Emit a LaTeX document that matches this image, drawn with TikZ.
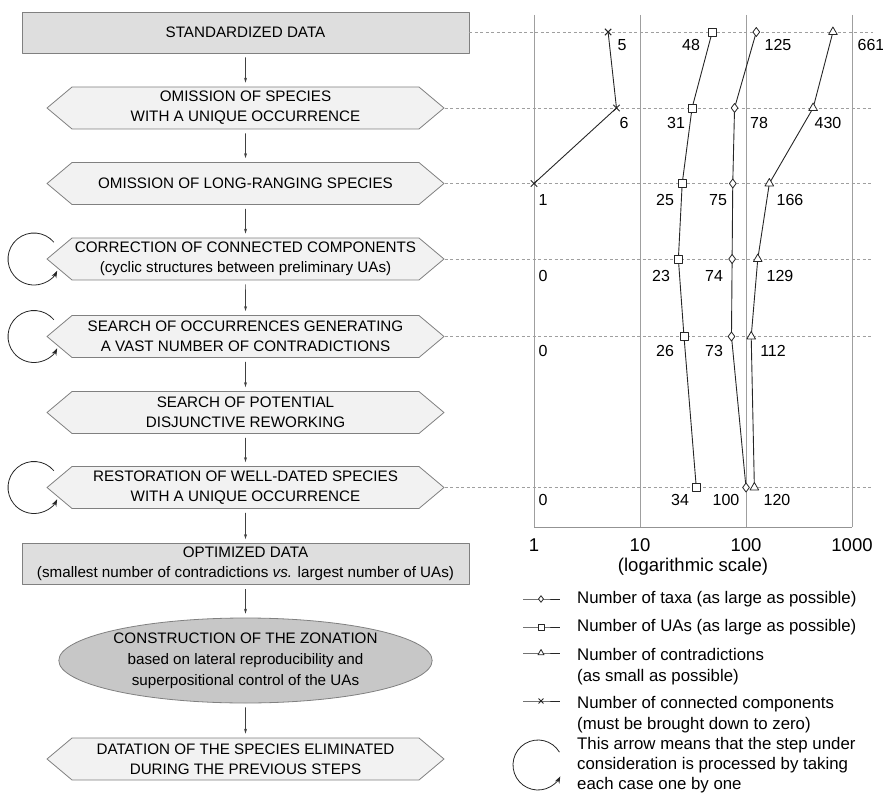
\documentclass[tikz,border=0pt]{standalone}
\usepackage{fontspec}
\setmainfont{Liberation Sans}
\usetikzlibrary{shapes.geometric,shapes.symbols,arrows.meta,plotmarks}

\definecolor{boxgray}{gray}{0.87}
\definecolor{hexgray}{gray}{0.95}
\definecolor{ovalgray}{gray}{0.78}
\definecolor{edgegray}{gray}{0.5}

\tikzset{
  stepfont/.style={font=\fontsize{15.2}{20}\selectfont},
  databox/.style={rectangle, draw=edgegray, fill=boxgray, line width=0.8pt,
    minimum width=447pt, minimum height=41pt, inner sep=0pt, align=center, stepfont},
  hexbox/.style={signal, signal to=west and east, signal pointer angle=80,
    draw=edgegray, fill=hexgray, line width=0.8pt,
    minimum width=397pt, minimum height=42pt, inner sep=0pt, align=center, stepfont},
  oval/.style={ellipse, draw=edgegray, fill=ovalgray, line width=0.8pt,
    minimum width=368pt, minimum height=85pt, inner sep=0pt, align=center,
    font=\fontsize{15.2}{21}\selectfont},
  flow/.style={-{Stealth[length=5pt,width=3pt]}, draw=black!75, line width=0.6pt,
    shorten <=4pt, shorten >=4pt},
  cyclearrow/.style={-{Stealth[length=7pt,width=5pt]}, draw=black!85, line width=0.8pt},
  guide/.style={draw=gray!75, line width=0.5pt, dash pattern=on 3pt off 2.5pt},
  gridline/.style={draw=gray!75, line width=0.6pt},
  series/.style={draw=black!85, line width=0.9pt},
  openmark/.style={mark options={fill=white, solid, line width=0.8pt}},
  numlab/.style={font=\fontsize{16}{18}\selectfont, inner sep=0pt},
  axislab/.style={font=\fontsize{18.5}{20}\selectfont, inner sep=0pt},
  legtext/.style={font=\fontsize{16.8}{21.5}\selectfont, align=left, inner sep=0pt}
}

\begin{document}
\begin{tikzpicture}[x=1pt, y=-1pt, line join=round]
\useasboundingbox (0,0) rectangle (883,794);

% steps of the procedure
\node[databox] (std) at (245.5,32.5) {STANDARDIZED DATA};
\node[hexbox] (unique) at (245.5,108) {OMISSION OF SPECIES\\WITH A UNIQUE OCCURRENCE};
\node[hexbox] (longrange) at (245.5,183.5) {OMISSION OF LONG-RANGING SPECIES};
\node[hexbox] (connect) at (245.5,259) {CORRECTION OF CONNECTED COMPONENTS\\(cyclic structures between preliminary UAs)};
\node[hexbox] (contra) at (245.5,336.5) {SEARCH OF OCCURRENCES GENERATING\\A VAST NUMBER OF CONTRADICTIONS};
\node[hexbox] (rework) at (245.5,412.5) {SEARCH OF POTENTIAL\\DISJUNCTIVE REWORKING};
\node[hexbox] (restore) at (245.5,487.5) {RESTORATION OF WELL-DATED SPECIES\\WITH A UNIQUE OCCURRENCE};
\node[databox] (optim) at (245.5,564) {OPTIMIZED DATA\\(smallest number of contradictions \textit{vs.} largest number of UAs)};
\node[oval] (zone) at (245.5,660.5) {CONSTRUCTION OF THE ZONATION\\based on lateral reproducibility and\\superpositional control of the UAs};
\node[hexbox] (dating) at (245.5,759) {DATATION OF THE SPECIES ELIMINATED\\DURING THE PREVIOUS STEPS};

\foreach \a/\b in {std/unique, unique/longrange, longrange/connect, connect/contra,
  contra/rework, rework/restore, restore/optim, optim/zone, zone/dating}
  \draw[flow] (\a) -- (\b);

% case by case loops
\foreach \y in {259,336.5,487.5}
  \draw[cyclearrow] ([shift={(-40:26)}]34,\y) arc[start angle=-40, end angle=-333, radius=26];

% guide lines to the chart
\coordinate (gend) at (873,0);
\foreach \n in {std,unique,longrange,connect,contra,restore}
  \draw[guide] (\n.east) -- (\n.east -| gend);

% logarithmic chart
\begin{scope}[shift={(534,0)}, x=106pt]
  \foreach \d in {0,...,3}
    \draw[gridline] (\d,15) -- (\d,527);
  \draw[gridline, draw=gray!85, line width=0.9pt] (0,527) -- (3,527);
  \foreach \d/\v in {0/1,1/10,2/100,3/1000}
    \node[axislab] at (\d,545) {\v};
  \node[axislab] at (1.5,567) {(logarithmic scale)};

  \draw[series] plot[mark=x, mark size=4.5pt, mark options={solid, line width=1pt}]
    coordinates {(0.699,32) (0.778,108) (0,183.5)};
  \draw[series] plot[mark=square*, mark size=4pt, openmark]
    coordinates {(1.681,32) (1.491,108) (1.398,183.5) (1.362,259) (1.415,336.5) (1.531,487.5)};
  \draw[series] plot[mark=diamond*, mark size=4.5pt, openmark]
    coordinates {(2.097,32) (1.892,108) (1.875,183.5) (1.869,259) (1.863,336.5) (2.0,487.5)};
  \draw[series] plot[mark=triangle*, mark size=5pt, openmark]
    coordinates {(2.820,32) (2.633,108) (2.220,183.5) (2.111,259) (2.049,336.5) (2.079,487.5)};
\end{scope}

% values
\foreach \x/\y/\t in {622/45/5, 691/45/48, 778/45/125, 871/45/661,
  624/123/6, 676/123/31, 759/123/78, 828/123/430,
  543/200/1, 665/200/25, 718/200/75, 790/200/166,
  543/276/0, 661/276/23, 714/276/74, 780/276/129,
  543/351/0, 665/351/26, 714/351/73, 773/351/112,
  543/500/0, 680/500/34, 726/500/100, 777/500/120}
  \node[numlab] at (\x,\y) {\t};

% legend
\draw[series] plot[mark=diamond*, mark size=3.3pt, openmark, mark indices={2}]
  coordinates {(523,599) (541,599) (560,599)};
\draw[series] plot[mark=square*, mark size=3pt, openmark, mark indices={2}]
  coordinates {(523,627) (541,627) (560,627)};
\draw[series] plot[mark=triangle*, mark size=3.5pt, openmark, mark indices={2}]
  coordinates {(523,653) (541,653) (560,653)};
\draw[series] plot[mark=x, mark size=3.5pt, mark indices={2}]
  coordinates {(523,701) (541,701) (560,701)};
\draw[cyclearrow] ([shift={(-31:25)}]538,765) arc[start angle=-31, end angle=-333, radius=25];

\node[legtext, anchor=west] (ltaxa) at (577,599) {Number of taxa (as large as possible)};
\node[legtext, anchor=west] (luas) at (577,627) {Number of UAs (as large as possible)};
\node[legtext, anchor=north west] (lcontra) at (577,648) {Number of contradictions\\(as small as possible)};
\node[legtext, anchor=north west] (lconnect) at (577,696) {Number of connected components\\(must be brought down to zero)};
\node[legtext, anchor=north west, font=\fontsize{16.8}{20.3}\selectfont] (larrow) at (577,737) {This arrow means that the step under\\consideration is processed by taking\\each case one by one};
\end{tikzpicture}
\end{document}
